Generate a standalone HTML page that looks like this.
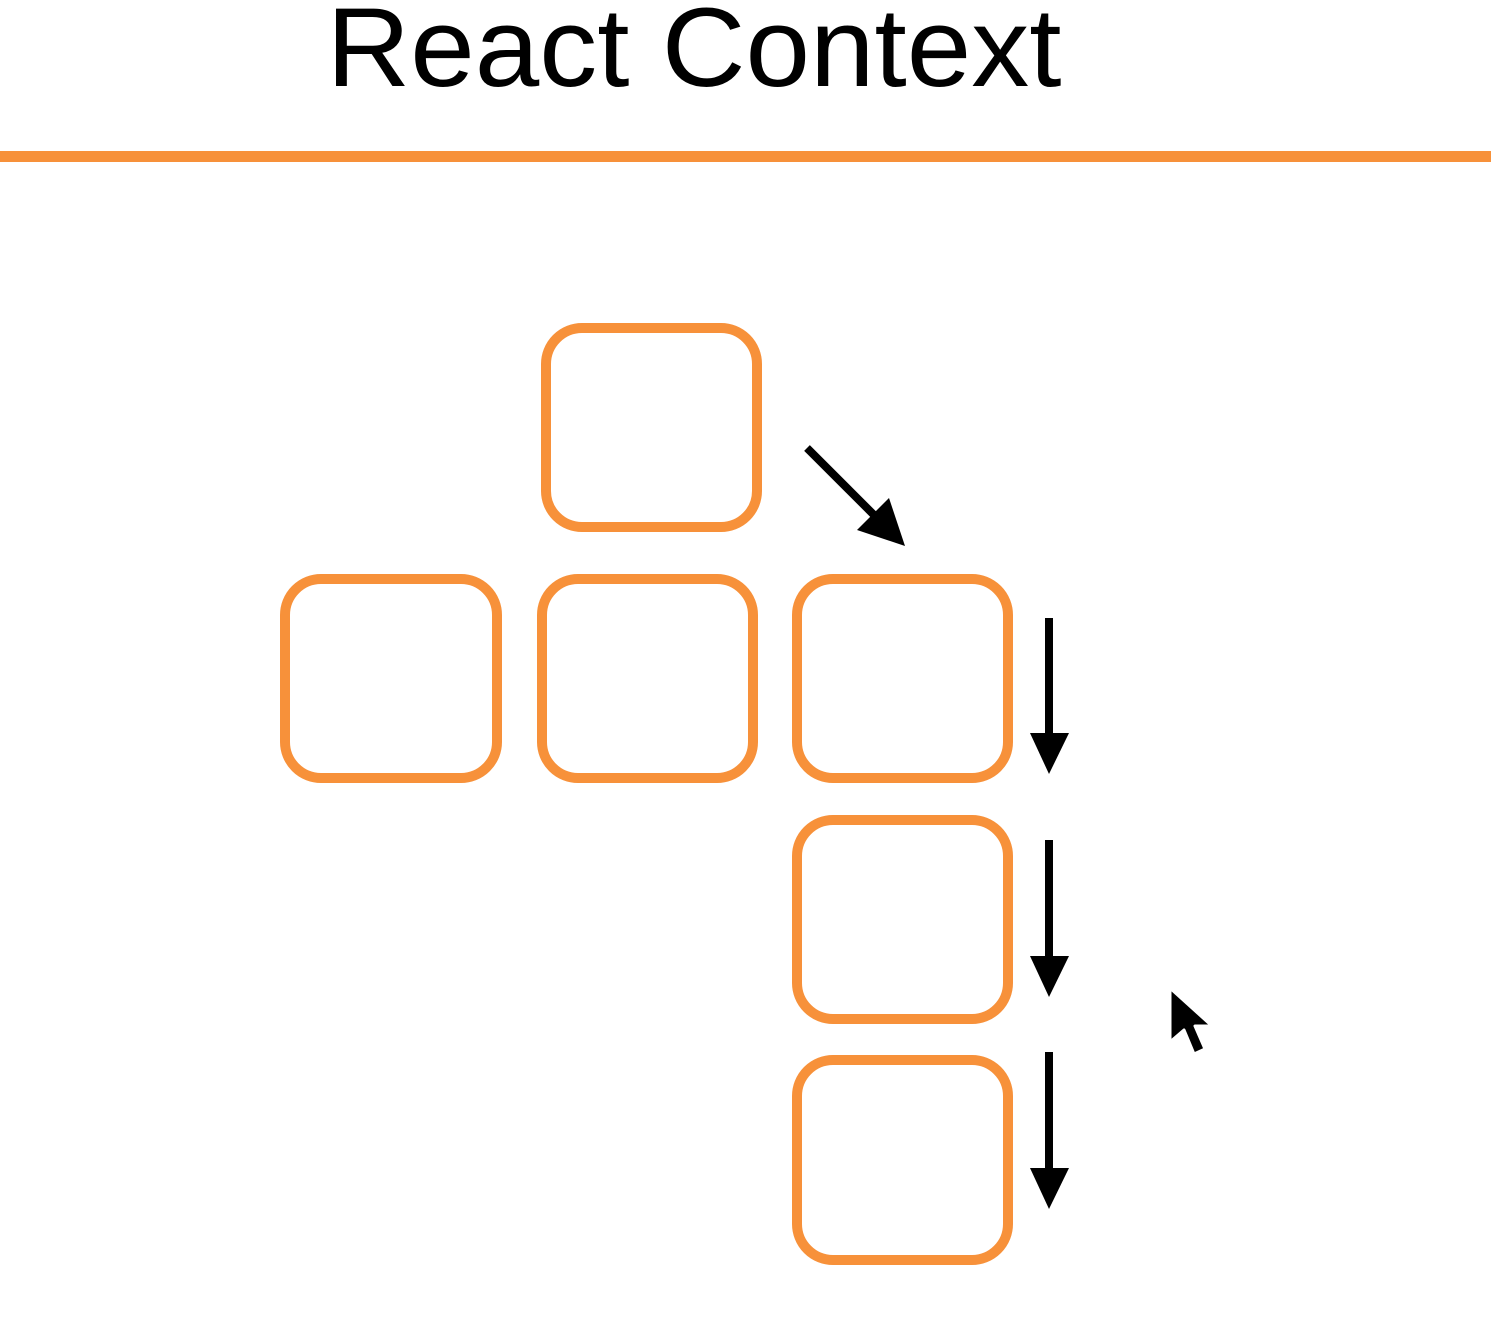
<!DOCTYPE html>
<html><head><style>
html,body{margin:0;padding:0;background:#fff;width:1491px;height:1342px;overflow:hidden}
</style></head><body>
<svg width="1491" height="1342" xmlns="http://www.w3.org/2000/svg" style="position:absolute;left:0;top:0">
<text x="694" y="86" text-anchor="middle" font-family="Liberation Sans, sans-serif" font-size="112" fill="#000" textLength="735" lengthAdjust="spacingAndGlyphs">React Context</text>
<rect x="0" y="151" width="1491" height="11" fill="#f7913a"/>
<g fill="none" stroke="#f7913a" stroke-width="10">
<rect x="546" y="328" width="211" height="199" rx="36"/>
<rect x="285" y="579" width="212" height="199" rx="36"/>
<rect x="542" y="579" width="211" height="199" rx="36"/>
<rect x="797" y="579" width="211" height="199" rx="36"/>
<rect x="797" y="820" width="211" height="199" rx="36"/>
<rect x="797" y="1060" width="211" height="200" rx="36"/>
</g>
<g stroke="#000" stroke-width="8">
<line x1="807" y1="448" x2="878" y2="519"/>
<line x1="1049" y1="618" x2="1049" y2="740"/>
<line x1="1049" y1="840" x2="1049" y2="962"/>
<line x1="1049" y1="1052" x2="1049" y2="1174"/>
</g>
<g fill="#000">
<polygon points="905,546 857,530 889,498"/>
<polygon points="1030,733 1069,733 1049,774"/>
<polygon points="1030,956 1069,956 1049,997"/>
<polygon points="1030,1168 1069,1168 1049,1209"/>
</g>
<polygon points="1170,988 1170,1042 1184,1030 1194,1054 1205,1049 1195,1026 1212,1026" fill="#000" stroke="#fff" stroke-width="3" stroke-linejoin="round"/>
</svg>
</body></html>
